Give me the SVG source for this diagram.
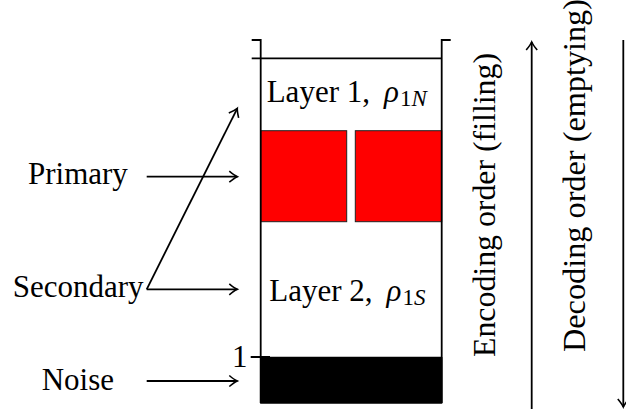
<svg xmlns="http://www.w3.org/2000/svg" width="626" height="409" viewBox="0 0 626 409">
<style>
.t{font-family:"Liberation Serif","Times New Roman",serif;font-size:31px;fill:#000}
.s{font-size:23px}
.ln{stroke:#000;stroke-width:1.8;fill:none}
.ar{stroke:#000;stroke-width:1.8;fill:none;marker-end:url(#ah)}
.red{fill:#ff0000;stroke:#222;stroke-width:1}
</style>
<defs>
<marker id="ah" markerUnits="userSpaceOnUse" markerWidth="16" markerHeight="16" viewBox="-12 -8 16 16" refX="0" refY="0" orient="auto">
<path d="M-8,-5.5 Q-3,-1.3 0,0 Q-3,1.3 -8,5.5" fill="none" stroke="#000" stroke-width="1.6"/>
</marker>
</defs>
<rect width="626" height="409" fill="#fff"/>
<g id="stack">
<rect class="red" x="260.7" y="130.7" width="86" height="91"/>
<rect class="red" x="355.3" y="130.7" width="86.4" height="91"/>
<rect x="260.7" y="357.5" width="181" height="45.5" fill="#000" stroke="#000" stroke-width="1.5" stroke-linejoin="round"/>
<path class="ln" d="M251.7,40 H260.7 V403 M450.7,40 H441.7 V403 M251.7,58.3 H441.7 M250.7,357 H270"/>
<text class="t" y="101.7"><tspan x="266.7">Layer 1,</tspan><tspan x="384" font-style="italic">ρ</tspan><tspan class="s" x="400" y="105.5">1</tspan><tspan class="s" font-style="italic">N</tspan></text>
<text class="t" y="300.7"><tspan x="269.3">Layer 2,</tspan><tspan x="386.5" font-style="italic">ρ</tspan><tspan class="s" x="402.5" y="304.5">1</tspan><tspan class="s" font-style="italic">S</tspan></text>
<text class="t" x="232" y="366.7">1</text>
</g>
<g id="primary"><text class="t" x="28" y="184">Primary</text></g>
<g id="secondary"><text class="t" x="12.7" y="296.7">Secondary</text></g>
<g id="noise"><text class="t" x="41.7" y="390">Noise</text></g>
<g id="encoding"><text class="t" transform="translate(495,357) rotate(-90)" x="0" y="0" font-size="32" textLength="304" lengthAdjust="spacingAndGlyphs">Encoding order (filling)</text></g>
<g id="decoding"><text class="t" transform="translate(585,352) rotate(-90)" x="0" y="0" font-size="32" textLength="353" lengthAdjust="spacingAndGlyphs">Decoding order (emptying)</text></g>
<g id="connectors">
<line class="ar" x1="146.7" y1="176.7" x2="237.3" y2="176.7"/>
<line class="ar" x1="146.7" y1="289.3" x2="237.3" y2="289.3"/>
<line class="ar" x1="146.7" y1="289.3" x2="237.3" y2="108.3"/>
<line class="ar" x1="146.7" y1="381" x2="237.3" y2="381"/>
<line class="ar" x1="531.7" y1="409" x2="531.7" y2="42"/>
<line class="ar" x1="623.3" y1="40" x2="623.3" y2="407"/>
</g>
</svg>
